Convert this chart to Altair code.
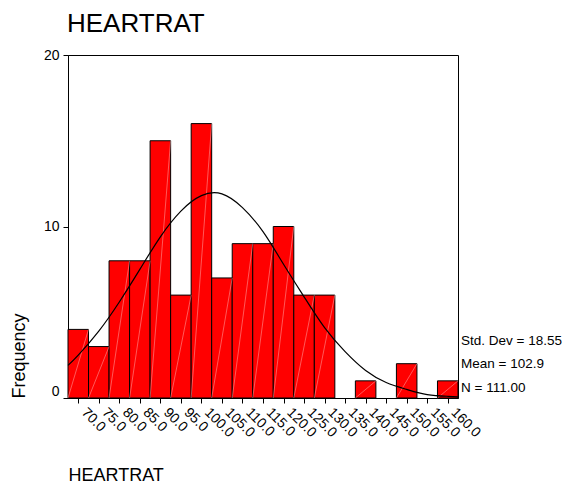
import altair as alt
import pandas as pd

# Histogram of HEARTRAT (bin width 5)
bin_starts = [67.5, 72.5, 77.5, 82.5, 87.5, 92.5, 97.5, 102.5, 107.5, 112.5,
              117.5, 122.5, 127.5, 132.5, 137.5, 142.5, 147.5, 152.5, 157.5]
counts = [4, 3, 8, 8, 15, 6, 16, 7, 9, 9, 10, 6, 6, 0, 1, 0, 2, 0, 1]

# Fitted normal curve
curve_x = [67.5, 70, 75, 80, 85, 90, 95, 100, 105, 110, 115, 120, 125, 130,
           135, 140, 145, 150, 155, 160, 162.5]
curve_y = [1.9, 2.5, 3.9, 5.6, 7.5, 9.4, 10.9, 11.8, 11.9, 11.1, 9.7, 7.8,
           5.9, 4.1, 2.7, 1.6, 0.9, 0.5, 0.2, 0.1, 0.07]

tick_values = [70, 75, 80, 85, 90, 95, 100, 105, 110, 115, 120, 125, 130,
               135, 140, 145, 150, 155, 160]
stats_lines = ["Std. Dev = 18.55", "Mean = 102.9", "N = 111.00"]
chart_title = "HEARTRAT"

bars = pd.DataFrame({"start": bin_starts, "end": [b + 5 for b in bin_starts],
                     "count": counts, "zero": [0] * len(counts)})
bars = bars[bars["count"] > 0]
curve = pd.DataFrame({"x": curve_x, "y": curve_y})

FONT = "Liberation Sans"

xscale = alt.Scale(domain=[67.5, 162.5], nice=False, zero=False)
yscale = alt.Scale(domain=[0, 20], nice=False)

xaxis = alt.Axis(values=tick_values, format=".1f", labelAngle=45, labelAlign="left",
                 labelBaseline="middle", labelFontSize=14, labelPadding=7,
                 labelOffset=5, labelOverlap=False, labelBound=False,
                 labelFlush=False,
                 tickSize=5, grid=False, domainColor="black",
                 tickColor="black", labelColor="black", title="HEARTRAT",
                 titleFontSize=18, titleFontWeight="normal", titleAnchor="start",
                 titleAlign="left", titleBaseline="alphabetic", titleX=0, titleY=82)
yaxis = alt.Axis(values=[0, 10, 20], tickSize=5, grid=False, labelFontSize=14,
                 labelPadding=4, domainColor="black", tickColor="black",
                 labelColor="black",
                 labelBaseline=alt.expr("datum.value == 0 ? 'bottom' : 'middle'"),
                 title="Frequency", titleFontSize=18, titleFontWeight="normal",
                 titleAngle=-90, titleAlign="left", titleBaseline="alphabetic",
                 titleX=-44, titleY=343)

base_bar = alt.Chart(bars).mark_bar(color="#ff0000", stroke="black", strokeWidth=1,
                                     opacity=1).encode(
    x=alt.X("start:Q", scale=xscale, axis=xaxis),
    x2="end:Q",
    y=alt.Y("count:Q", scale=yscale, axis=yaxis),
    y2="zero:Q",
)

hatch = alt.Chart(bars).mark_rule(color="#ffb0b0", strokeWidth=0.5).encode(
    x=alt.X("start:Q", scale=xscale, axis=xaxis),
    x2="end:Q",
    y=alt.Y("zero:Q", scale=yscale, axis=yaxis),
    y2="count:Q",
)

line = alt.Chart(curve).mark_line(color="black", strokeWidth=1.2,
                                  interpolate="natural").encode(
    x=alt.X("x:Q", scale=xscale, axis=xaxis),
    y=alt.Y("y:Q", scale=yscale, axis=yaxis),
)

stat_y = [286, 309, 333]
texts = [
    alt.Chart(pd.DataFrame({"t": [s]})).mark_text(
        align="left", baseline="middle", fontSize=13.5, font=FONT, color="black",
        x=393, y=yy).encode(text="t:N")
    for s, yy in zip(stats_lines, stat_y)
]

title_mark = alt.Chart(pd.DataFrame({"t": [chart_title]})).mark_text(
    align="left", baseline="alphabetic", fontSize=26, font=FONT, color="black",
    x=-1, y=-23).encode(text="t:N")

chart = alt.layer(base_bar, hatch, line, *texts, title_mark).properties(
    width=390, height=343,
    autosize=alt.AutoSizeParams(type="none"),
    padding={"left": 60, "top": 47, "right": 104, "bottom": 88},
).configure(font=FONT).configure_view(stroke="black", strokeWidth=1).configure_axis(
    labelFont=FONT, titleFont=FONT, domainWidth=1, tickWidth=1, labelOverlap=False)

chart.save("out.html", embed_options={"renderer": "svg", "actions": False})
